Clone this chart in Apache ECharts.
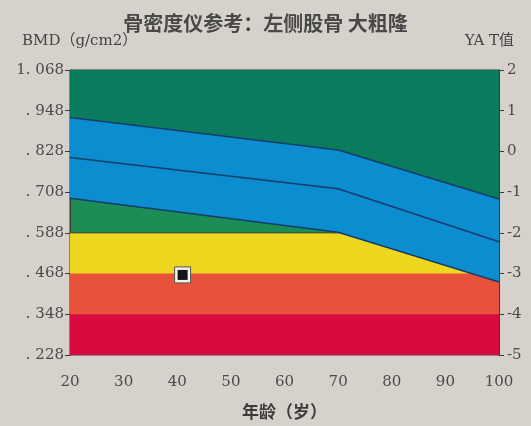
<!DOCTYPE html>
<html>
<head>
<meta charset="utf-8">
<script src="https://cdn.jsdelivr.net/npm/echarts@6/dist/echarts.min.js"></script>
<style>
  html, body { margin: 0; padding: 0; background: #d6d2cb; }
  #chart { width: 531px; height: 426px; }
</style>
</head>
<body>
<div id="chart"></div>
<script>
// 参考曲线（年龄 -> BMD）
const ages = [20, 70, 100];
const upperBmd = [0.928, 0.832, 0.688];
const meanBmd = [0.810, 0.718, 0.562];
const lowerBmd = [0.690, 0.590, 0.443];

// 水平色带的上沿 BMD：黄、橙、红
const bandTops = [0.588, 0.468, 0.348];

// 患者测量点
const patientAge = [41];
const patientBmd = [0.464];

// 刻度标签
const bmdTickLabels = ['. 228', '. 348', '. 468', '. 588', '. 708', '. 828', '. 948', '1. 068'];
const tTickLabels = ['-5', '-4', '-3', '-2', '-1', '0', '1', '2'];

// BMD 转 T 值（YA 均值 0.828，SD 0.12）
const toT = b => (b - 0.828) / 0.12;

const colors = {
    topGreen: '#0a7b5d',
    lowGreen: '#1b8d55',
    blue: '#0c8dd0',
    yellow: '#ecd71e',
    orange: '#e8523b',
    crimson: '#d90a3f',
    line: '#163c6c'
};

const serif = 'DejaVu Serif, Liberation Serif, serif';
const numColor = '#4a4a4a';

function curve (vals) {
    return ages.map((a, i) => [a, toT(vals[i])])
}

function flat (b) {
    return ages.map(a => [a, toT(b)])
}

function fillSeries (data, color, origin, z, lineStyle) {
    return {
        type: 'line',
        data: data,
        showSymbol: false,
        silent: true,
        z: z,
        lineStyle: lineStyle || { width: 0 },
        areaStyle: { color: color, origin: origin, opacity: 1 }
    }
}

function strokeSeries (data) {
    return {
        type: 'line',
        data: data,
        showSymbol: false,
        silent: true,
        z: 6,
        lineStyle: { color: colors.line, width: 1.5 }
    }
}

const chart = echarts.init(document.getElementById('chart'));

const yAxisBase = {
    type: 'value',
    min: -5,
    max: 2,
    interval: 1,
    axisLine: { show: true, lineStyle: { color: '#3a3a3a', width: 1 } },
    axisTick: { show: true, length: 5, lineStyle: { color: '#3a3a3a' } },
    splitLine: { show: false }
};

const option = {
    backgroundColor: '#d6d2cb',
    animation: false,
    title: {
        text: '骨密度仪参考：左侧股骨 大粗隆',
        left: 'center',
        top: 8,
        textStyle: {
            fontFamily: 'Noto Sans CJK SC',
            fontSize: 20,
            fontWeight: 'bold',
            color: '#484848'
        }
    },
    graphic: [
        {
            type: 'text', left: 22, top: 34,
            style: { text: 'BMD（g/cm2）', font: '15px ' + serif + ', Noto Sans CJK SC', fill: '#444' }
        },
        {
            type: 'text', right: 17, top: 34,
            style: { text: 'YA T值', font: '15px ' + serif + ', Noto Sans CJK SC', fill: '#444' }
        }
    ],
    grid: {
        left: 70, right: 32, top: 70, bottom: 71,
        show: true,
        backgroundColor: colors.lowGreen,
        borderColor: '#333',
        borderWidth: 1
    },
    xAxis: {
        type: 'value',
        min: 20,
        max: 100,
        interval: 5,
        name: '年龄（岁）',
        nameLocation: 'middle',
        nameGap: 48,
        nameTextStyle: {
            fontFamily: 'Noto Sans CJK SC',
            fontSize: 17,
            fontWeight: 'bold',
            color: '#3c3c3c'
        },
        axisLine: { lineStyle: { color: '#3a3a3a' } },
        axisTick: { length: 5, lineStyle: { color: '#3a3a3a' } },
        axisLabel: {
            margin: 20,
            fontFamily: serif,
            fontSize: 15,
            color: numColor,
            formatter: v => (v % 10 === 0 ? String(v) : '')
        },
        splitLine: { show: false }
    },
    yAxis: [
        Object.assign({}, yAxisBase, {
            position: 'left',
            axisLabel: {
                margin: 6,
                fontFamily: serif,
                fontSize: 15,
                color: numColor,
                formatter: v => bmdTickLabels[Math.round(v) + 5]
            }
        }),
        Object.assign({}, yAxisBase, {
            position: 'right',
            axisLabel: {
                margin: 8,
                fontFamily: serif,
                fontSize: 15,
                color: numColor,
                formatter: v => tTickLabels[Math.round(v) + 5]
            }
        })
    ],
    series: [
        fillSeries(flat(bandTops[0]), colors.yellow, 'start', 1, { color: '#2a3a30', width: 1 }),
        fillSeries(flat(bandTops[1]), colors.orange, 'start', 2),
        fillSeries(flat(bandTops[2]), colors.crimson, 'start', 3),
        fillSeries(curve(lowerBmd), colors.blue, 'end', 4),
        fillSeries(curve(upperBmd), colors.topGreen, 'end', 5),
        strokeSeries(curve(upperBmd)),
        strokeSeries(curve(meanBmd)),
        strokeSeries(curve(lowerBmd)),
        {
            type: 'scatter',
            z: 7,
            silent: true,
            symbol: 'rect',
            symbolSize: 16,
            itemStyle: { color: '#f2f1ea', borderColor: '#555', borderWidth: 1, opacity: 1 },
            data: patientAge.map((a, i) => [a, toT(patientBmd[i])])
        },
        {
            type: 'scatter',
            z: 8,
            silent: true,
            symbol: 'rect',
            symbolSize: 10,
            itemStyle: { color: '#14141c', opacity: 1 },
            data: patientAge.map((a, i) => [a, toT(patientBmd[i])])
        }
    ]
};

chart.setOption(option);
</script>
</body>
</html>
